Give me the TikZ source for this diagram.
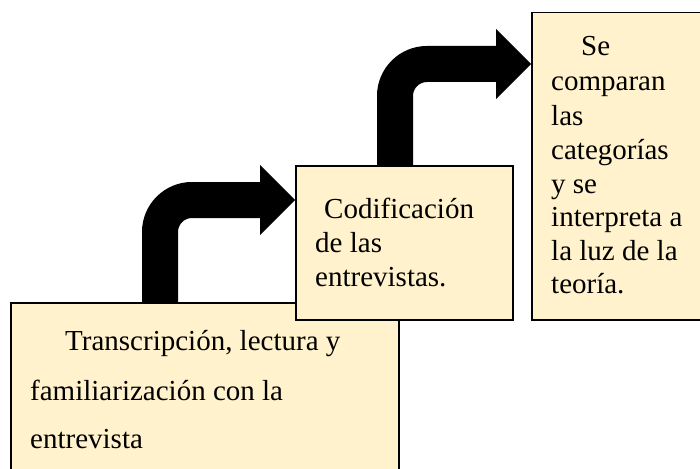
\documentclass[tikz,border=0pt]{standalone}
\usepackage{fontspec}
\setmainfont{Liberation Serif}
\usetikzlibrary{calc}
\definecolor{boxfill}{HTML}{FFF2CC}
\tikzset{
  box/.style={draw=black, line width=1.5pt, fill=boxfill, anchor=north west, inner sep=0pt},
  txt/.style={anchor=base west, inner sep=0pt, font=\fontsize{29}{34}\selectfont},
  bigarrow/.style={line width=36pt, rounded corners=32pt, black},
  arrowhead/.style={fill=black}
}
\begin{document}
\begin{tikzpicture}[x=1pt,y=-1pt]
\useasboundingbox (0,0) rectangle (700,468);
\clip (0,0) rectangle (700,468);
% box 1
\node[box, minimum width=388pt, minimum height=190pt] (b1) at (10,302) {};
\node[txt] (t1a) at (65,350) {Transcripción, lectura y};
\node[txt] (t1b) at (30,400) {familiarización con la};
\node[txt] (t1c) at (30,448) {entrevista};
% box 2 position
\coordinate (b2nw) at (295,165);
% arrow 1
\coordinate (a1s) at ($(b1.north west)+(150,0)$);
\coordinate (a1t) at ($(b2nw)+(0,35)$);
\draw[bigarrow] (a1s) |- ($(a1t)+(-35,0)$);
\fill[arrowhead] (a1t) -- ++(-35,-35) -- ++(0,70) -- cycle;
% box 2
\node[box, minimum width=217pt, minimum height=154pt] (b2) at (b2nw) {};
\node[txt] (t2a) at (324,218) {Codificación};
\node[txt] (t2b) at (315,252) {de las};
\node[txt] (t2c) at (315,286) {entrevistas.};
% arrow 2
\coordinate (b3nw) at (531,12);
\coordinate (a2s) at ($(b2.north west)+(100,0)$);
\coordinate (a2t) at ($(b3nw)+(0,52)$);
\draw[bigarrow] (a2s) |- ($(a2t)+(-35,0)$);
\fill[arrowhead] (a2t) -- ++(-35,-35) -- ++(0,70) -- cycle;
% box 3
\node[box, minimum width=190pt, minimum height=307pt] (b3) at (b3nw) {};
\node[txt] (t3a) at (581,56) {Se};
\node[txt] (t3b) at (551,91) {comparan};
\node[txt] (t3c) at (551,125) {las};
\node[txt] (t3d) at (551,159) {categorías};
\node[txt] (t3e) at (551,193) {y se};
\node[txt] (t3f) at (551,226) {interpreta a};
\node[txt] (t3g) at (551,260) {la luz de la};
\node[txt] (t3h) at (551,293) {teoría.};
\end{tikzpicture}
\end{document}
